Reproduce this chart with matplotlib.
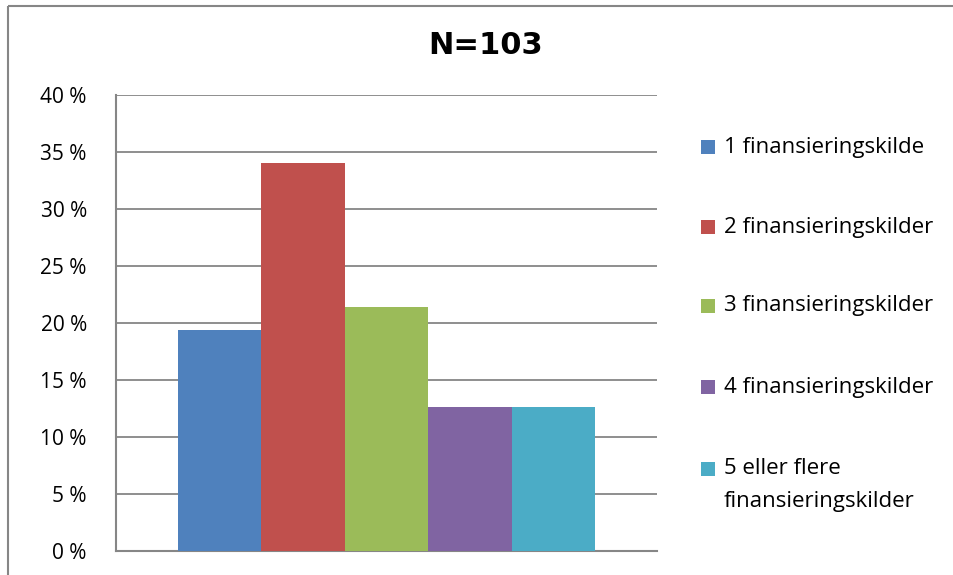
import matplotlib
matplotlib.use("Agg")
import matplotlib.pyplot as plt
from matplotlib.patches import Rectangle
from matplotlib.lines import Line2D
from matplotlib.ticker import FuncFormatter

# ---- data ----
title = "N=103"
categories = ["1 finansieringskilde", "2 finansieringskilder", "3 finansieringskilder",
              "4 finansieringskilder", "5 eller flere\nfinansieringskilder"]
values = [19.4, 34.0, 21.4, 12.6, 12.6]
colors = ["#4F81BD", "#C0504D", "#9BBB59", "#8064A2", "#4BACC6"]
yticks = [0, 5, 10, 15, 20, 25, 30, 35, 40]

W, H = 954, 575
fig = plt.figure(figsize=(W / 100, H / 100), dpi=100)
fig.patch.set_facecolor("white")

ax = fig.add_axes([116 / W, 1 - 551 / H, (657 - 116) / W, (551 - 95) / H])
ax.bar(range(len(values)), values, width=1.0, color=colors, zorder=3)
ax.set_xlim(-1.243, len(values) - 1 + 1.243)
ax.set_ylim(0, 40)
ax.set_yticks(yticks)
ax.yaxis.set_major_formatter(FuncFormatter(lambda v, p: f"{int(v)} %"))
ax.set_xticks([])
grid_c = "#868686"
ax.grid(axis="y", color=grid_c, linewidth=1.3, zorder=0)
for s in ["top", "right"]:
    ax.spines[s].set_visible(False)
for s in ["left", "bottom"]:
    ax.spines[s].set_color(grid_c)
    ax.spines[s].set_linewidth(1.5)
ax.tick_params(axis="y", length=0, pad=21, labelsize=15, labelcolor="black")
for lab in ax.get_yticklabels():
    lab.set_family("Open Sans")

fig.text(486 / W, 1 - 45 / H, title, ha="center", va="center",
         fontsize=22, fontweight="bold", family="DejaVu Sans")

# legend (manual, Excel style)
leg_y = [147, 227, 306, 387, 469]
for lbl, c, yc in zip(categories, colors, leg_y):
    fig.patches.append(Rectangle((701 / W, 1 - (yc + 7) / H), 14 / W, 14 / H,
                                 transform=fig.transFigure, facecolor=c,
                                 edgecolor="none"))
    for k, line in enumerate(lbl.split("\n")):
        fig.text(724 / W, 1 - (yc + 33 * k) / H, line, ha="left", va="center",
                 fontsize=16, family="Open Sans", color="black")

# chart frame (partially visible)
fig.add_artist(Line2D([8 / W, 8 / W], [-0.05, 1 - 6 / H], transform=fig.transFigure,
                      color=grid_c, linewidth=1.5, solid_capstyle="butt"))
fig.add_artist(Line2D([8 / W, 1.05], [1 - 6 / H, 1 - 6 / H], transform=fig.transFigure,
                      color=grid_c, linewidth=1.5, solid_capstyle="butt"))

fig.savefig("out.png", dpi=100)
